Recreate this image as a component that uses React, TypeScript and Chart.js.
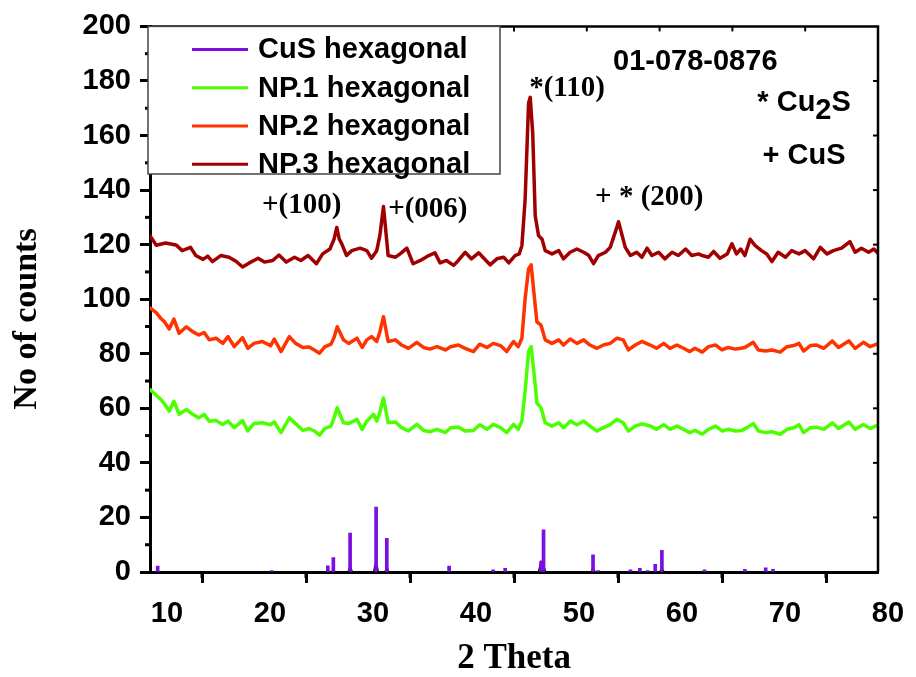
import React, { useEffect, useRef } from 'react';
import { Chart, registerables } from 'chart.js';

Chart.register(...registerables);

// ---------- data ----------
const np3X = [10, 10.6, 11.5, 12.5, 13.1, 13.9, 14.4, 15.1, 15.55, 16, 16.8, 17.6, 18.3, 18.9, 19.55, 20.4, 21.0, 21.8, 22.4, 23.1, 23.9, 24.5, 25.2, 26.0, 26.6, 27.3, 27.7, 27.96, 28.2, 28.44, 28.9, 29.4, 30.2, 30.85, 31.3, 31.8, 32.1, 32.45, 32.9, 33.6, 34.05, 34.7, 35.3, 36.0, 36.8, 37.4, 37.9, 38.5, 39.2, 39.65, 40.3, 40.9, 41.6, 42.1, 42.7, 43.35, 44.0, 44.5, 45.1, 45.5, 45.76, 46.07, 46.4, 46.56, 46.8, 47.04, 47.36, 47.7, 48.0, 48.65, 49.3, 49.76, 50.4, 51.05, 51.7, 52.2, 52.65, 53.1, 53.8, 54.25, 54.73, 55.05, 55.4, 55.7, 56.2, 56.8, 57.3, 57.8, 58.26, 58.9, 59.5, 60.2, 60.8, 61.5, 62.1, 62.75, 63.1, 63.7, 64.2, 64.8, 65.5, 65.95, 66.4, 66.8, 67.2, 67.7, 68.2, 68.8, 69.3, 69.8, 70.4, 71.1, 71.7, 72.4, 73.0, 73.8, 74.45, 75.1, 75.7, 76.5, 77.3, 77.8, 78.4, 79.1, 79.6, 80];
const np3Y = [123.3, 119.8, 120.6, 119.9, 117.8, 119, 116, 114.6, 115.8, 113.8, 116, 115.4, 113.8, 111.8, 113.3, 115, 113.6, 114.2, 116.2, 113.6, 115.4, 114.2, 116, 113, 116.6, 118.4, 122, 126.3, 122, 120.3, 116, 117.8, 118.7, 117.8, 115, 117.8, 123.3, 134, 116, 115.4, 116.6, 118.7, 113, 114.2, 116, 117, 113.3, 114.2, 112.4, 114.2, 117.2, 114.8, 117, 115, 112.6, 114.8, 115.4, 113.3, 116, 116.6, 119.6, 136.6, 171.8, 174, 160.9, 130.6, 123.3, 122, 117.8, 116.6, 117.8, 114.8, 117.2, 118.4, 117.2, 116, 113, 116, 117.2, 119, 124.5, 128.4, 123.3, 119, 116, 117.2, 115.4, 118.7, 116, 117.2, 114.8, 117.2, 116, 118.4, 116, 116.6, 116, 115.4, 117.5, 115, 116.6, 120.3, 116.6, 118.4, 116, 122, 119.6, 117.8, 116.6, 113.8, 117.2, 115.4, 117.8, 116.6, 117.8, 114.8, 119, 116.6, 117.8, 118.7, 121.1, 117.2, 118.7, 117.2, 118.4, 116.8];

const np2X = [10, 10.6, 11.05, 11.4, 11.85, 12.3, 12.8, 13.5, 14.1, 14.7, 15.2, 15.7, 16.35, 17.0, 17.5, 18.1, 18.9, 19.4, 20.0, 20.8, 21.6, 21.95, 22.6, 23.4, 24.0, 24.7, 25.3, 25.8, 26.3, 26.8, 27.4, 27.7, 28.0, 28.6, 29.1, 29.9, 30.4, 30.85, 31.3, 31.8, 32.1, 32.45, 32.9, 33.6, 34.2, 34.85, 35.65, 36.3, 36.9, 37.6, 38.4, 38.9, 39.65, 40.3, 41.1, 41.7, 42.4, 43.0, 43.7, 44.3, 44.95, 45.4, 45.76, 46.07, 46.4, 46.65, 46.94, 47.2, 47.6, 48.0, 48.65, 49.3, 49.76, 50.4, 51.05, 51.7, 52.3, 52.97, 53.6, 54.25, 54.9, 55.5, 56.0, 56.66, 57.3, 58.1, 58.7, 59.4, 60.0, 60.66, 61.3, 61.9, 62.4, 63.1, 63.7, 64.4, 65.0, 65.6, 66.3, 66.8, 67.2, 68.0, 68.5, 69.2, 69.8, 70.6, 71.25, 71.9, 72.4, 72.85, 73.5, 74.1, 74.8, 75.6, 76.2, 77.2, 77.8, 78.6, 79.25, 80];
const np2Y = [96.8, 95.1, 92.9, 91.7, 89.1, 92.7, 87.5, 89.9, 88.1, 86.9, 87.8, 85.1, 85.7, 83.8, 86.3, 82.6, 85.9, 82.0, 83.8, 84.5, 83.0, 85.4, 80.8, 86.3, 83.8, 82.3, 82.5, 81.4, 80.2, 82.5, 83.5, 86, 89.9, 85.1, 83.8, 85.7, 82.3, 85.1, 86.3, 84.5, 88, 93.6, 84.5, 85.1, 83.2, 82.0, 84.2, 82.3, 81.7, 82.6, 81.4, 82.6, 83.2, 82.0, 80.8, 83.5, 82.3, 83.8, 83.0, 80.8, 84.5, 82.6, 85.7, 100.2, 111.1, 112.6, 101.4, 91.7, 90.5, 85.1, 83.8, 85.1, 83.2, 85.4, 83.8, 85.1, 83.2, 82.0, 83.2, 83.8, 85.7, 85.1, 81.4, 83.2, 84.5, 83.2, 82.0, 83.8, 82.0, 83.2, 82.0, 80.8, 82.0, 80.6, 82.6, 83.2, 81.4, 82.3, 81.7, 82.0, 82.3, 84.2, 81.4, 81.0, 81.4, 80.6, 82.6, 83.0, 83.8, 81.0, 83.0, 83.2, 82.0, 84.7, 82.3, 84.7, 82.0, 84.2, 82.6, 83.7];

const np1X = [10, 10.6, 11.05, 11.4, 11.85, 12.3, 12.8, 13.5, 14.1, 14.7, 15.2, 15.7, 16.35, 17.0, 17.5, 18.1, 18.9, 19.4, 20.0, 20.8, 21.6, 21.95, 22.6, 23.4, 24.0, 24.7, 25.3, 25.8, 26.3, 26.8, 27.4, 27.7, 28.0, 28.6, 29.1, 29.9, 30.4, 30.85, 31.5, 31.8, 32.1, 32.45, 32.9, 33.6, 34.2, 34.85, 35.65, 36.3, 36.9, 37.6, 38.4, 38.9, 39.65, 40.3, 41.1, 41.7, 42.4, 43.0, 43.7, 44.3, 44.95, 45.4, 45.76, 46.07, 46.4, 46.65, 46.94, 47.2, 47.6, 48.0, 48.65, 49.3, 49.76, 50.4, 51.05, 51.7, 52.3, 52.97, 53.6, 54.25, 54.9, 55.5, 56.0, 56.66, 57.3, 58.1, 58.7, 59.4, 60.0, 60.66, 61.3, 61.9, 62.4, 63.1, 63.7, 64.4, 65.0, 65.6, 66.3, 66.9, 67.5, 68.0, 68.5, 69.2, 69.8, 70.6, 71.25, 71.9, 72.4, 72.85, 73.5, 74.1, 74.8, 75.6, 76.2, 77.2, 77.8, 78.6, 79.25, 80];
const np1Y = [66.9, 64.8, 63.2, 61.6, 59.0, 62.6, 57.8, 59.6, 57.8, 56.5, 57.8, 55.3, 55.5, 54.1, 55.3, 52.9, 55.5, 51.7, 54.4, 54.7, 54.0, 55.0, 51.1, 56.5, 54.4, 51.9, 52.6, 51.7, 50.2, 52.6, 53.5, 56.5, 60.2, 54.7, 54.4, 56.0, 52.3, 55.3, 57.8, 55.3, 58.5, 63.8, 54.7, 55.0, 52.9, 51.7, 54.1, 51.9, 51.4, 52.3, 51.1, 52.9, 53.1, 51.7, 51.9, 54.0, 52.3, 54.1, 52.9, 51.1, 54.1, 52.3, 55.3, 66.3, 80.8, 82.6, 72.3, 62.0, 60.2, 54.7, 53.5, 54.7, 52.9, 55.3, 54.0, 55.3, 53.5, 51.7, 52.9, 54.0, 56.0, 54.7, 51.7, 53.5, 54.3, 53.5, 52.3, 54.0, 52.3, 53.5, 52.3, 51.1, 51.9, 50.5, 52.3, 53.5, 51.7, 52.3, 51.7, 51.9, 53.1, 54.4, 51.7, 51.1, 51.4, 50.5, 52.3, 52.9, 54.0, 51.1, 52.9, 53.1, 52.3, 54.7, 52.6, 55.0, 52.3, 54.1, 52.6, 53.9];

// CuS hexagonal reference (01-078-0876) stick pattern
const cusX = [10.74, 21.7, 27.1, 27.63, 29.24, 31.74, 32.77, 38.76, 43.0, 44.15, 47.6, 47.84, 52.6, 53.1, 56.2, 57.1, 57.84, 58.58, 59.22, 63.32, 67.2, 69.2, 69.9];
const cusY = [2.2, 0.5, 2.3, 5.3, 14.3, 23.8, 12.3, 2.2, 0.8, 1.3, 3.8, 15.5, 6.3, 0.5, 0.8, 1.3, 0.5, 2.8, 7.9, 0.8, 1.0, 1.5, 1.0];

// thin black reference trace under the sticks
const refX = [10, 27.45, 27.63, 27.8, 29.05, 29.24, 29.45, 31.5, 31.74, 31.95, 32.6, 32.77, 32.95, 47.35, 47.6, 47.84, 48.05, 52.4, 52.6, 52.8, 59.0, 59.22, 59.45, 80];
const refY = [0, 0, 1, 0, 0, 2.4, 0, 0, 4.3, 0, 0, 2.1, 0, 0, 3.8, 2.5, 0, 0, 1.5, 0, 0, 1.3, 0, 0];

const xMajorTicks = [10, 20, 30, 40, 50, 60, 70, 80];
const xMinorTicks = [15, 25, 35, 45, 55, 65, 75];
const yMinorTicks = [10, 30, 50, 70, 90, 110, 130, 150, 170, 190];
const topTicks = [17, 24, 31, 38, 45, 52, 59, 66, 73];
const rightTicks = [20, 40, 60, 80, 100, 120, 140, 160, 180];

const legendLabels = ['CuS hexagonal', 'NP.1 hexagonal', 'NP.2 hexagonal', 'NP.3 hexagonal'];
const legendColors = ['#7A0FE0', '#4CFF00', '#FF3300', '#A00000'];

const zip = (xs: number[], ys: number[]) => xs.map((x, i) => ({ x, y: ys[i] }));

const SANS = 'Liberation Sans';
const SERIF = 'Liberation Serif';

const overlayPlugin = {
  id: 'overlay',
  afterDraw(chart: any) {
    const { ctx, chartArea: ca, scales } = chart;
    const xs = scales.x;
    const ys = scales.y;
    const line = (x1: number, y1: number, x2: number, y2: number) => {
      ctx.beginPath();
      ctx.moveTo(x1, y1);
      ctx.lineTo(x2, y2);
      ctx.stroke();
    };
    ctx.save();
    ctx.strokeStyle = '#000';
    ctx.lineCap = 'butt';
    // frame top & right
    ctx.lineWidth = 2.5;
    ctx.beginPath();
    ctx.moveTo(ca.left, ca.top);
    ctx.lineTo(ca.right, ca.top);
    ctx.lineTo(ca.right, ca.bottom);
    ctx.stroke();
    // minor ticks
    ctx.lineWidth = 3;
    xMinorTicks.forEach((v) => {
      const px = xs.getPixelForValue(v);
      line(px, ca.bottom, px, ca.bottom + 6);
    });
    yMinorTicks.forEach((v) => {
      const py = ys.getPixelForValue(v);
      line(ca.left - 5, py, ca.left, py);
    });
    // top & right inward ticks
    ctx.lineWidth = 2;
    topTicks.forEach((v) => {
      const px = xs.getPixelForValue(v);
      line(px, ca.top, px, ca.top + 5);
    });
    rightTicks.forEach((v) => {
      const py = ys.getPixelForValue(v);
      line(ca.right - 5, py, ca.right, py);
    });

    // x tick labels (slightly shifted right as in the original)
    ctx.fillStyle = '#000';
    ctx.font = `bold 29px "${SANS}"`;
    ctx.textAlign = 'center';
    ctx.textBaseline = 'middle';
    xMajorTicks.forEach((v) => {
      const shift = 17 - ((v - 10) / 70) * 7;
      ctx.fillText(String(v), xs.getPixelForValue(v) + shift, ca.bottom + 42);
    });

    // axis titles
    ctx.font = `bold 35px "${SERIF}"`;
    ctx.fillText('2 Theta', (ca.left + ca.right) / 2, 659);
    ctx.save();
    ctx.translate(27, 319);
    ctx.rotate(-Math.PI / 2);
    ctx.font = `bold 34px "${SERIF}"`;
    ctx.fillText('No of counts', 0, 0);
    ctx.restore();

    // legend box
    const lx = ca.left - 2;
    const ly = ca.top;
    const lw = 500 - lx;
    const lh = 174 - ly;
    ctx.fillStyle = '#fff';
    ctx.fillRect(lx, ly, lw, lh);
    ctx.strokeStyle = '#444';
    ctx.lineWidth = 1.5;
    ctx.strokeRect(lx, ly, lw, lh);
    ctx.font = `bold 29px "${SANS}"`;
    ctx.textBaseline = 'middle';
    ctx.textAlign = 'left';
    legendLabels.forEach((lab, i) => {
      const ry = ly + 23 + i * 38.3;
      ctx.strokeStyle = legendColors[i];
      ctx.lineWidth = 3;
      line(lx + 44, ry, lx + 100, ry);
      ctx.fillStyle = '#000';
      ctx.fillText(lab, lx + 110, ry + 1);
    });

    // annotations
    ctx.fillStyle = '#000';
    const px = (v: number) => xs.getPixelForValue(v);
    const py = (v: number) => ys.getPixelForValue(v);
    ctx.font = `bold 29px "${SERIF}"`;
    ctx.textAlign = 'left';
    ctx.fillText('*(110)', px(46.46), py(177.3));
    ctx.fillText('+(100)', px(20.77), py(134.3));
    ctx.fillText('+(006)', px(32.9), py(132.9));
    ctx.fillText('+ * (200)', px(52.8), py(137.2));

    ctx.font = `bold 29px "${SANS}"`;
    ctx.textAlign = 'center';
    ctx.fillText('01-078-0876', px(62.43), py(187.1));
    ctx.textAlign = 'left';
    let cx = px(68.4);
    const cy = py(171.8);
    ctx.fillText('* Cu', cx, cy);
    cx += ctx.measureText('* Cu').width;
    ctx.fillText('2', cx, cy + 8);
    cx += ctx.measureText('2').width;
    ctx.fillText('S', cx, cy);
    ctx.fillText('+ CuS', px(68.9), py(152.5));
    ctx.restore();
  },
};

export default function App() {
  const ref = useRef<HTMLCanvasElement>(null);
  useEffect(() => {
    if (!ref.current) return;
    const tickFont = { family: SANS, size: 29, weight: 'bold' as const };
    const lineDs = (label: string, xs: number[], ys: number[], color: string) => ({
      label,
      data: zip(xs, ys),
      borderColor: color,
      borderWidth: 3.5,
      pointRadius: 0,
      fill: false,
      borderJoinStyle: 'round',
      borderCapStyle: 'round',
    });
    const chart = new Chart(ref.current, {
      type: 'line',
      data: {
        datasets: [
          {
            type: 'bar',
            label: legendLabels[0],
            data: zip(cusX, cusY),
            backgroundColor: legendColors[0],
            borderWidth: 0,
            barThickness: 3,
          } as any,
          {
            label: 'ref',
            data: zip(refX, refY),
            borderColor: '#000',
            borderWidth: 1.5,
            pointRadius: 0,
            fill: false,
          },
          lineDs(legendLabels[1], np1X, np1Y, legendColors[1]),
          lineDs(legendLabels[2], np2X, np2Y, legendColors[2]),
          lineDs(legendLabels[3], np3X, np3Y, legendColors[3]),
        ],
      },
      options: {
        animation: false,
        responsive: false,
        devicePixelRatio: 1,
        layout: { padding: { top: 23, right: 38, left: 0, bottom: 0 } },
        plugins: { legend: { display: false }, tooltip: { enabled: false } },
        scales: {
          x: {
            type: 'linear',
            min: 10,
            max: 80,
            offset: false,
            ticks: { stepSize: 10, display: false, font: tickFont },
            grid: { display: true, drawOnChartArea: false, drawTicks: true, tickLength: 11, tickWidth: 3, tickColor: '#000' },
            border: { display: true, color: '#000', width: 3 },
            title: { display: false },
            afterFit: (s: any) => {
              s.height = 105;
            },
          },
          y: {
            type: 'linear',
            min: 0,
            max: 200,
            ticks: { stepSize: 20, font: tickFont, color: '#000', padding: 9 },
            grid: { display: true, drawOnChartArea: false, drawTicks: true, tickLength: 10, tickWidth: 3, tickColor: '#000' },
            border: { display: true, color: '#000', width: 3 },
            title: { display: false },
            afterFit: (s: any) => {
              s.width = 150;
            },
          },
        },
      } as any,
      plugins: [overlayPlugin],
    });
    return () => chart.destroy();
  }, []);
  return (
    <div style={{ position: 'absolute', left: 0, top: 0, width: 916, height: 677, background: '#fff' }}>
      <canvas ref={ref} width={916} height={677} style={{ display: 'block' }} />
    </div>
  );
}
